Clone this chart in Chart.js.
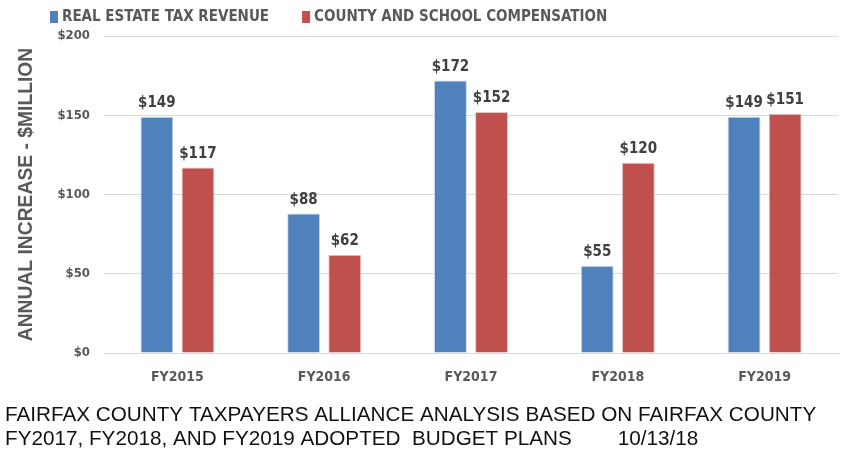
<!DOCTYPE html>
<html>
<head>
<meta charset="utf-8">
<script src="https://cdn.jsdelivr.net/npm/chart.js@4"></script>
<style>
  html, body { margin: 0; padding: 0; background: #fff; }
  #wrap { position: relative; width: 854px; height: 466px; }
</style>
</head>
<body>
<div id="wrap"><canvas id="chart"></canvas></div>
<script>
const years = ['FY2015', 'FY2016', 'FY2017', 'FY2018', 'FY2019']
const taxRevenue = [149, 88, 172, 55, 149]
const compensation = [117, 62, 152, 120, 151]
const yTicks = [0, 50, 100, 150, 200]

const narrow = "'Liberation Sans Narrow', 'DejaVu Sans Condensed', 'Roboto Condensed', sans-serif"
const grey = '#595959'

// value labels above each bar
const barLabels = {
    id: 'barLabels',
    afterDatasetsDraw(chart) {
        const ctx = chart.ctx
        ctx.save()
        ctx.font = 'bold 15px ' + narrow
        ctx.fillStyle = '#404040'
        ctx.textAlign = 'center'
        ctx.textBaseline = 'bottom'
        chart.data.datasets.forEach((ds, i) => {
            chart.getDatasetMeta(i).data.forEach((bar, j) => {
                ctx.fillText('$' + ds.data[j], bar.x, bar.y - 6)
            })
        })
        ctx.restore()
    }
}

// legend drawn by hand so it can sit left of centre like the original
const topLegend = {
    id: 'topLegend',
    afterDraw(chart) {
        const ctx = chart.ctx
        ctx.save()
        ctx.font = 'bold 15px ' + narrow
        ctx.textBaseline = 'middle'
        let x = 50
        chart.data.datasets.forEach(ds => {
            ctx.fillStyle = ds.backgroundColor
            ctx.fillRect(x, 11, 8, 12)
            ctx.fillStyle = grey
            ctx.fillText(ds.label, x + 12, 17)
            x += 12 + ctx.measureText(ds.label).width + 33
        })
        ctx.restore()
    }
}

const ctx = document.getElementById('chart').getContext('2d')
const chart = new Chart(ctx, {
    type: 'bar',
    data: {
        labels: years,
        datasets: [{
            label: 'REAL ESTATE TAX REVENUE',
            data: taxRevenue,
            backgroundColor: '#4F81BD',
            borderColor: '#c6d6ea',
            borderWidth: 1
        }, {
            label: 'COUNTY AND SCHOOL COMPENSATION',
            data: compensation,
            backgroundColor: '#C0504D',
            borderColor: '#e8c3c2',
            borderWidth: 1
        }]
    },
    options: {
        responsive: true,
        maintainAspectRatio: false,
        animation: false,
        categoryPercentage: 0.56,
        barPercentage: 0.8,
        layout: { padding: { top: 36, right: 16, left: 5, bottom: 0 } },
        plugins: {
            legend: { display: false },
            tooltip: { enabled: false },
            title: {
                display: true,
                position: 'bottom',
                align: 'start',
                text: ['FAIRFAX COUNTY TAXPAYERS ALLIANCE ANALYSIS BASED ON FAIRFAX COUNTY',
                       'FY2017, FY2018, AND FY2019 ADOPTED  BUDGET PLANS        10/13/18'],
                color: '#111',
                font: { family: "'Liberation Sans', Arial, sans-serif", size: 20.7, weight: 'normal', lineHeight: 1.17 },
                padding: { top: 6, bottom: 14.5 }
            }
        },
        scales: {
            x: {
                grid: { display: false, drawTicks: false },
                border: { color: '#d9d9d9' },
                ticks: { color: grey, padding: 16, font: { family: narrow, size: 14, weight: 'bold' } },
                afterFit(scale) { scale.height = 44 }
            },
            y: {
                min: 0,
                max: 200,
                afterBuildTicks(scale) { scale.ticks = yTicks.map(v => ({ value: v })) },
                grid: { color: '#d9d9d9', drawTicks: false },
                border: { display: false },
                ticks: {
                    color: grey,
                    padding: 14,
                    font: { family: narrow, size: 13, weight: 'bold' },
                    callback: v => '$' + v
                },
                title: {
                    display: true,
                    text: 'ANNUAL INCREASE - $MILLION',
                    color: grey,
                    font: { family: "'Liberation Sans', Arial, sans-serif", size: 19.3, weight: 'bold' },
                    padding: { top: 10, bottom: 0 }
                },
                afterFit(scale) { scale.width = 99 }
            }
        }
    },
    plugins: [barLabels, topLegend]
})
</script>
</body>
</html>
